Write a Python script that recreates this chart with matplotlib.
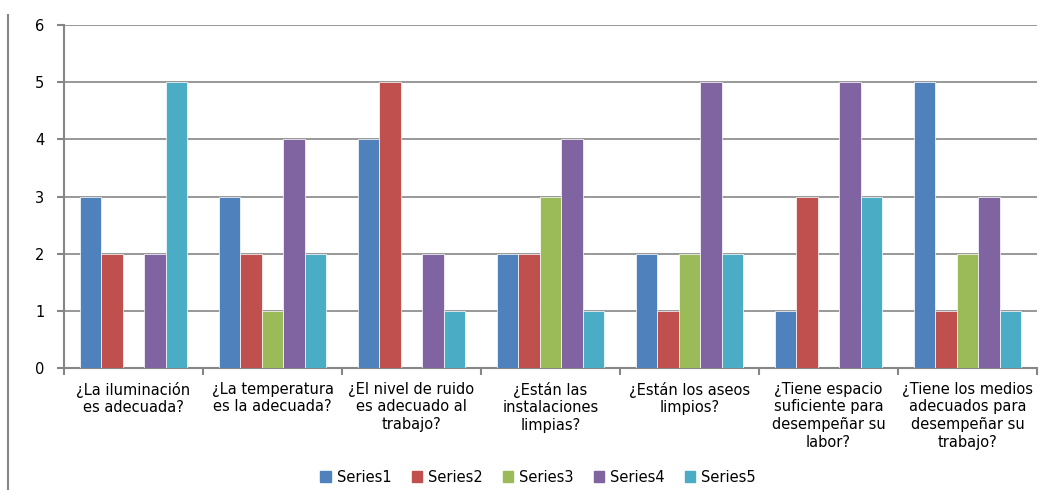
import numpy as np
import matplotlib
matplotlib.use('Agg')
import matplotlib.pyplot as plt
from matplotlib.lines import Line2D

categories = [
    "¿La iluminación\nes adecuada?",
    "¿La temperatura\nes la adecuada?",
    "¿El nivel de ruido\nes adecuado al\ntrabajo?",
    "¿Están las\ninstalaciones\nlimpias?",
    "¿Están los aseos\nlimpios?",
    "¿Tiene espacio\nsuficiente para\ndesempeñar su\nlabor?",
    "¿Tiene los medios\nadecuados para\ndesempeñar su\ntrabajo?",
]
series_names = ["Series1", "Series2", "Series3", "Series4", "Series5"]
series1 = [3, 3, 4, 2, 2, 1, 5]
series2 = [2, 2, 5, 2, 1, 3, 1]
series3 = [0, 1, 0, 3, 2, 0, 2]
series4 = [2, 4, 2, 4, 5, 5, 3]
series5 = [5, 2, 1, 1, 2, 3, 1]
colors = ['#4F81BD', '#C0504D', '#9BBB59', '#8064A2', '#4BACC6']

plt.rcParams['font.family'] = ['DejaVu Sans']
fig = plt.figure(figsize=(10.48, 4.9), dpi=100)
ax = fig.add_axes([64/1048, 1 - 368/490, (1037 - 64)/1048, (368 - 25)/490])

all_series = [series1, series2, series3, series4, series5]
n = len(all_series)
width = 1 / (n + 1.5)
x = np.arange(len(categories))
for i, (vals, name, c) in enumerate(zip(all_series, series_names, colors)):
    offs = (i - (n - 1) / 2) * width
    ax.bar(x + offs, vals, width=width, color=c, edgecolor='white', linewidth=0.5,
           label=name, zorder=3)

ax.set_xlim(-0.5, len(categories) - 0.5)
ax.set_ylim(0, 6)
ax.set_yticks(range(0, 7))
ax.yaxis.grid(True, color='#868686', linewidth=1.2, zorder=0)
ax.set_axisbelow(True)
for s in ['top', 'right']:
    ax.spines[s].set_visible(False)
for s in ['left', 'bottom']:
    ax.spines[s].set_color('#868686')
    ax.spines[s].set_linewidth(1.5)

ax.set_xticks(np.arange(-0.5, len(categories) + 0.5, 1))
ax.set_xticklabels([])
ax.tick_params(axis='x', length=5, color='#868686', width=1.5)
ax.tick_params(axis='y', length=5, color='#868686', width=1.5, labelsize=10.5, pad=9)
for xi, lab in zip(x, categories):
    ax.text(xi, -0.24, lab, ha='center', va='top', fontsize=10.5, linespacing=1.22,
            transform=ax.transData)

handles = [plt.Rectangle((0, 0), 1, 1, color=c) for c in colors]
fig.legend(handles, series_names, loc='center', bbox_to_anchor=(538/1048, 1 - 477/490),
           ncol=5, frameon=False, fontsize=10.5, handlelength=0.7, handleheight=0.7,
           columnspacing=1.4, handletextpad=0.4, borderpad=0.1)

fig.add_artist(Line2D([8/1048, 8/1048], [0, 1 - 15/490], color='#868686', linewidth=1.5))

fig.savefig('out.png', dpi=100)
